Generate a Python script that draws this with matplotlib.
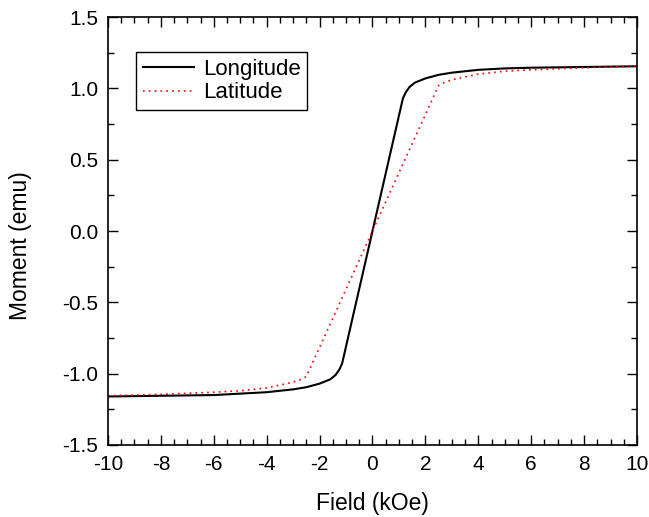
import matplotlib
matplotlib.use("Agg")
import matplotlib.pyplot as plt
from matplotlib.ticker import MultipleLocator, FormatStrFormatter

plt.rcParams['font.family'] = ['Liberation Sans', 'DejaVu Sans']

lon_field = [-10, -8, -6, -5, -4, -3, -2.5, -2, -1.6, -1.4, -1.25, -1.15, 0, 1.15, 1.25, 1.4, 1.6, 2, 2.5, 3, 4, 5, 6, 8, 10]
lon_moment = [-1.16, -1.155, -1.15, -1.14, -1.13, -1.11, -1.095, -1.07, -1.04, -1.01, -0.97, -0.93, 0.0, 0.93, 0.97, 1.01, 1.04, 1.07, 1.095, 1.11, 1.13, 1.14, 1.145, 1.15, 1.155]

lat_field = [-10, -8, -6, -5, -4, -3.5, -3, -2.7, -2.5, 0, 2.5, 2.7, 3, 3.5, 4, 5, 6, 8, 10]
lat_moment = [-1.155, -1.145, -1.13, -1.12, -1.10, -1.08, -1.06, -1.04, -1.02, 0.0, 1.02, 1.04, 1.06, 1.08, 1.10, 1.12, 1.13, 1.145, 1.155]

fig = plt.figure(figsize=(6.49, 5.17), dpi=100)
ax = fig.add_axes([0.1664, 0.1393, 0.8151, 0.8277])

ax.plot(lon_field, lon_moment, color='black', lw=1.5, label='Longitude')
ax.plot(lat_field, lat_moment, color='red', lw=1.2, ls=(0, (1, 2.5)), label='Latitude')

ax.set_xlim(-10, 10)
ax.set_ylim(-1.5, 1.5)
ax.xaxis.set_major_locator(MultipleLocator(2))
ax.xaxis.set_minor_locator(MultipleLocator(0.5))
ax.yaxis.set_major_locator(MultipleLocator(0.5))
ax.yaxis.set_minor_locator(MultipleLocator(0.25))
ax.xaxis.set_major_formatter(FormatStrFormatter('%d'))
ax.yaxis.set_major_formatter(FormatStrFormatter('%.1f'))
ax.tick_params(which='both', direction='in', top=True, right=True, labelsize=15, width=1)
ax.tick_params(which='major', length=7, pad=7)
ax.tick_params(which='minor', length=4)
for s in ax.spines.values():
    s.set_linewidth(1.2)

ax.set_xlabel('Field (kOe)', fontsize=16.5, labelpad=13)
ax.set_ylabel('Moment (emu)', fontsize=16.5)
ax.yaxis.set_label_coords(-0.144, 0.465)

leg = ax.legend(loc='upper left', bbox_to_anchor=(0.053, 0.918), borderaxespad=0,
                fontsize=16, frameon=True, fancybox=False, edgecolor='black',
                framealpha=1, handlelength=2.3, borderpad=0.3, labelspacing=0.12,
                handletextpad=0.4)
leg.get_frame().set_linewidth(1)

fig.savefig('out.png', dpi=100)
